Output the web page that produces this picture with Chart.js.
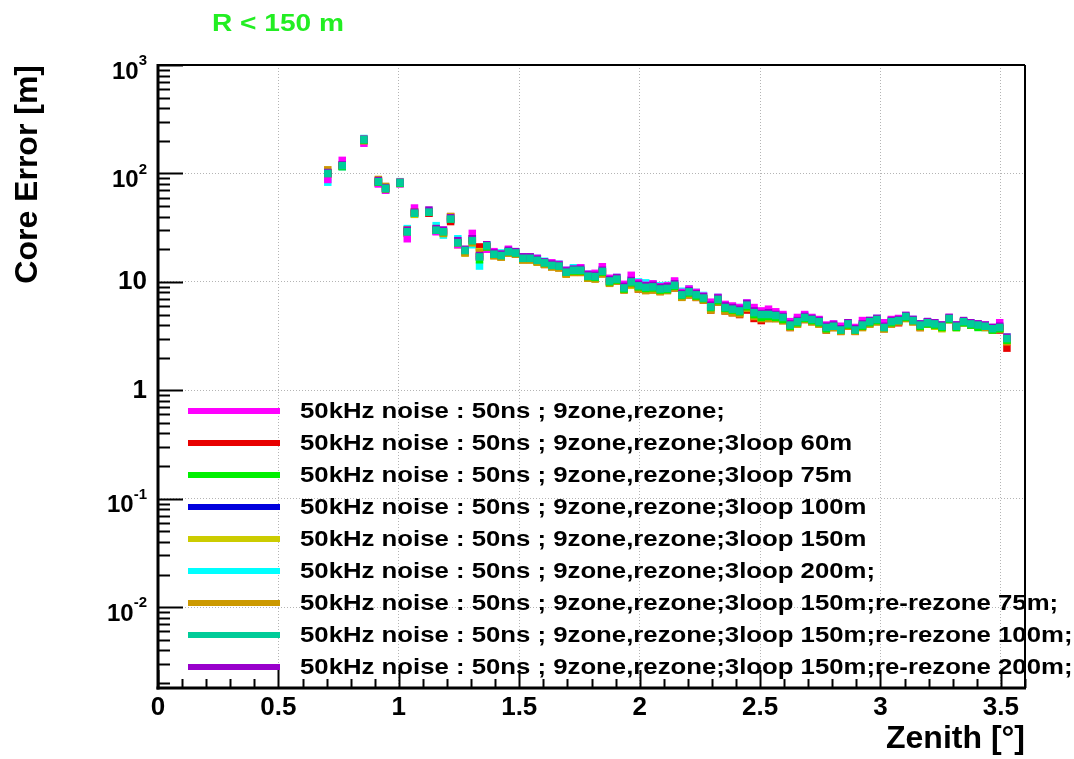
<!DOCTYPE html>
<html>
<head>
<meta charset="utf-8">
<script src="https://cdn.jsdelivr.net/npm/chart.js@4.4.0/dist/chart.umd.min.js"></script>
<style>
body { margin: 0; background: #ffffff; }
#wrap { width: 1074px; height: 759px; }
</style>
</head>
<body>
<div id="wrap"><canvas id="coreChart" width="1074" height="759"></canvas></div>
<script>
// bin centres, degrees (first row has gaps, then every bin from 1.125 on)
const zenith = [
    0.705, 0.765, 0.855, 0.915, 0.945, 1.005, 1.035, 1.065,
    1.125, 1.155, 1.185, 1.215, 1.245, 1.275, 1.305, 1.335, 1.365, 1.395,
    1.425, 1.455, 1.485, 1.515, 1.545, 1.575, 1.605, 1.635, 1.665, 1.695,
    1.725, 1.755, 1.785, 1.815, 1.845, 1.875, 1.905, 1.935, 1.965, 1.995,
    2.025, 2.055, 2.085, 2.115, 2.145, 2.175, 2.205, 2.235, 2.265, 2.295,
    2.325, 2.355, 2.385, 2.415, 2.445, 2.475, 2.505, 2.535, 2.565, 2.595,
    2.625, 2.655, 2.685, 2.715, 2.745, 2.775, 2.805, 2.835, 2.865, 2.895,
    2.925, 2.955, 2.985, 3.015, 3.045, 3.075, 3.105, 3.135, 3.165, 3.195,
    3.225, 3.255, 3.285, 3.315, 3.345, 3.375, 3.405, 3.435, 3.465, 3.495,
    3.525
];

const errMagenta = [
    88, 132, 190, 80, 70, 80, 25, 48,
    44, 29, 30, 40, 22, 19, 28, 17, 20, 19,
    18, 20, 18, 17, 17, 16.5, 15, 15, 14.5, 12.8,
    13, 13.5, 11.8, 12, 13.8, 10.8, 11, 9.5, 11.5, 9.8,
    9.3, 9.6, 9, 9.2, 10.2, 8, 8.6, 8, 7.4, 6.5,
    7.2, 6.2, 6, 5.8, 6.4, 5.8, 5.4, 5.6, 5.3, 5,
    4.3, 4.7, 5, 4.7, 4.5, 4, 4.1, 3.9, 4.2, 3.8,
    4.4, 4.4, 4.6, 4.2, 4.5, 4.6, 4.9, 4.5, 3.9, 4.3,
    4.2, 4, 4.7, 4, 4.3, 4.1, 4.1, 4, 3.8, 4.2,
    3.0
];
const errRed = [
    98, 120, 200, 82, 72, 82, 28, 44,
    43, 30, 29, 36, 23, 19, 25, 21, 21, 17.5,
    17, 18.5, 18, 16, 16, 15.5, 14.5, 13.8, 13.5, 12,
    12.5, 12.3, 10.8, 10.8, 12, 9.8, 10.2, 8.5, 9.5, 8.6,
    8.4, 8.5, 8.2, 8.4, 8.8, 7.3, 7.6, 7.2, 6.8, 5.5,
    6.5, 5.4, 5.2, 5, 5.5, 4.6, 4.4, 4.6, 4.6, 4.4,
    3.8, 4.1, 4.5, 4.3, 4.1, 3.6, 3.8, 3.5, 3.9, 3.5,
    3.9, 4.1, 4.3, 3.7, 4.1, 4.2, 4.7, 4.3, 3.8, 4.1,
    4, 3.8, 4.5, 3.9, 4.2, 4.1, 4, 3.9, 3.7, 3.6,
    2.45
];
const errGreen = [
    100, 116, 203, 83, 72, 81, 29, 43,
    44, 30, 29, 38, 23, 19.5, 24, 16, 21, 18,
    17.5, 19, 18.5, 16.5, 16.5, 15.8, 15, 14.2, 14, 12.3,
    12.6, 12.6, 11.2, 11, 12.3, 10, 10.4, 8.6, 9.8, 9,
    8.7, 8.8, 8.4, 8.5, 9.1, 7.5, 7.9, 7.4, 7, 5.8,
    6.7, 5.7, 5.5, 5.3, 5.9, 5, 4.7, 4.8, 4.7, 4.5,
    3.9, 4.2, 4.6, 4.4, 4.2, 3.7, 3.9, 3.6, 4, 3.6,
    3.9, 4.2, 4.4, 3.8, 4.2, 4.4, 4.7, 4.4, 3.9, 4.1,
    4, 3.8, 4.5, 3.8, 4.2, 4, 3.8, 3.9, 3.6, 3.7,
    2.9
];
const errBlue = [
    100, 118, 205, 84, 73, 82, 29, 42.5,
    43.5, 29.5, 28.5, 37.5, 23, 19.3, 24, 17, 21.3, 18,
    17.3, 18.8, 18.3, 16.3, 16.3, 15.6, 14.9, 14.1, 13.9, 12.2,
    12.7, 12.7, 11.2, 11.1, 12.4, 10.1, 10.5, 8.7, 9.9, 9.1,
    8.8, 8.9, 8.5, 8.6, 9.2, 7.5, 8, 7.5, 7, 5.85,
    6.85, 5.75, 5.55, 5.35, 6.05, 5.15, 4.95, 4.95, 4.85, 4.65,
    3.95, 4.25, 4.65, 4.45, 4.25, 3.75, 3.85, 3.6, 4.05, 3.6,
    3.95, 4.25, 4.45, 3.8, 4.25, 4.35, 4.75, 4.35, 3.95, 4.15,
    4.05, 3.85, 4.55, 3.85, 4.25, 4.05, 3.95, 3.85, 3.65, 3.75,
    2.95
];
const errOlive = [
    102, 117, 206, 86, 75, 83, 30, 42,
    44, 30, 28, 40, 22, 18.5, 23, 19, 20.5, 17.5,
    17, 18.5, 18, 16, 16, 15.2, 14.5, 13.8, 13.5, 11.8,
    12.3, 12.3, 10.8, 10.8, 12, 9.9, 10.3, 8.6, 9.3, 8.8,
    8.5, 8.6, 8.2, 8.4, 9, 7.3, 7.7, 7.3, 6.9, 5.6,
    6.6, 5.5, 5.3, 5.1, 5.8, 4.9, 4.6, 4.7, 4.6, 4.4,
    3.9, 4.1, 4.6, 4.3, 4.1, 3.7, 3.8, 3.5, 3.9, 3.6,
    3.8, 4.1, 4.3, 3.7, 4.1, 4.3, 4.6, 4.3, 3.8, 4.1,
    3.9, 3.7, 4.5, 3.8, 4.2, 4, 3.9, 3.8, 3.6, 3.7,
    2.9
];
const errCyan = [
    83, 115, 210, 82, 70, 84, 31, 42,
    45, 33, 27, 37, 25, 19, 22, 14, 22, 18.5,
    18.5, 19.5, 19, 17, 17, 16.5, 15.5, 14.8, 14.6, 12.8,
    13.5, 13.5, 11.8, 11.8, 13, 10.6, 11, 9.3, 10.5, 10,
    9.8, 9.6, 9.2, 9.3, 10, 8.2, 8.6, 8, 7.5, 6.3,
    7.2, 6.1, 5.9, 5.8, 6.4, 5.5, 5.3, 5.3, 5.1, 4.8,
    4.2, 4.5, 4.9, 4.6, 4.4, 3.9, 4.1, 3.8, 4.2, 3.7,
    4.1, 4.4, 4.6, 3.9, 4.4, 4.5, 4.8, 4.5, 4.1, 4.3,
    4.2, 4.0, 4.6, 4.0, 4.3, 4.2, 4.0, 3.8, 3.6, 3.8,
    3.1
];
const errGold = [
    108, 116, 200, 88, 76, 82, 30, 44,
    44, 31, 28, 40, 23, 18.5, 23, 18.5, 21, 17.5,
    17, 18.5, 18, 16, 16, 15.2, 14.5, 13.8, 13.5, 11.8,
    12.2, 12.2, 10.8, 10.6, 11.8, 9.7, 10.2, 8.4, 9.5, 8.6,
    8.3, 8.4, 8.1, 8.3, 8.8, 7.2, 7.6, 7.2, 6.8, 5.5,
    6.5, 5.4, 5.2, 5.1, 5.7, 4.8, 4.6, 4.6, 4.6, 4.4,
    3.8, 4.1, 4.5, 4.3, 4.1, 3.6, 3.8, 3.5, 3.9, 3.5,
    3.8, 4.1, 4.3, 3.7, 4.1, 4.3, 4.6, 4.3, 3.8, 4.1,
    4, 3.8, 4.5, 3.8, 4.3, 4.0, 3.9, 3.8, 3.6, 3.7,
    2.8
];
const errTeal = [
    100, 118, 205, 84, 73, 82, 29, 43,
    44, 30, 29, 38, 23, 19.5, 24, 17, 21.5, 18,
    17.5, 19, 18.5, 16.5, 16.5, 15.8, 15, 14.2, 14, 12.3,
    12.8, 12.8, 11.3, 11.2, 12.5, 10.2, 10.6, 8.8, 10, 9.2,
    8.9, 9, 8.6, 8.7, 9.3, 7.6, 8.1, 7.6, 7.1, 5.9,
    6.9, 5.8, 5.6, 5.4, 6.1, 5.2, 5.0, 5.0, 4.9, 4.7,
    4.0, 4.3, 4.7, 4.5, 4.3, 3.8, 3.9, 3.6, 4.1, 3.6,
    4.0, 4.3, 4.5, 3.8, 4.3, 4.4, 4.8, 4.4, 4.0, 4.2,
    4.1, 3.9, 4.6, 3.9, 4.3, 4.1, 4.0, 3.9, 3.7, 3.8,
    3.0
];
const errPurple = [
    102, 120, 207, 86, 74, 83, 30, 44,
    46, 31, 30, 39, 24, 20, 25, 17.5, 22, 18.5,
    18, 19.5, 19, 17, 17, 16.2, 15.3, 14.6, 14.3, 12.6,
    13.1, 13.1, 11.6, 11.5, 12.8, 10.5, 10.9, 9.1, 10.3, 9.5,
    9.2, 9.3, 8.9, 9, 9.6, 7.8, 8.3, 7.8, 7.3, 6.1,
    7.1, 6, 5.8, 5.6, 6.3, 5.4, 5.1, 5.2, 5, 4.8,
    4.1, 4.4, 4.8, 4.6, 4.4, 3.9, 4, 3.7, 4.2, 3.7,
    4.1, 4.4, 4.6, 3.9, 4.4, 4.5, 4.9, 4.5, 4.1, 4.3,
    4.2, 4, 4.7, 4, 4.4, 4.2, 4.1, 4, 3.8, 3.9,
    3.1
];

const seriesLabels = [
    "50kHz noise : 50ns ; 9zone,rezone;",
    "50kHz noise : 50ns ; 9zone,rezone;3loop 60m",
    "50kHz noise : 50ns ; 9zone,rezone;3loop 75m",
    "50kHz noise : 50ns ; 9zone,rezone;3loop 100m",
    "50kHz noise : 50ns ; 9zone,rezone;3loop 150m",
    "50kHz noise : 50ns ; 9zone,rezone;3loop 200m;",
    "50kHz noise : 50ns ; 9zone,rezone;3loop 150m;re-rezone 75m;",
    "50kHz noise : 50ns ; 9zone,rezone;3loop 150m;re-rezone 100m;",
    "50kHz noise : 50ns ; 9zone,rezone;3loop 150m;re-rezone 200m;"
];
const seriesValues = [errMagenta, errRed, errGreen, errBlue, errOlive, errCyan, errGold, errTeal, errPurple];
const seriesColors = ['#ff00ff', '#e80000', '#00f000', '#0000dd', '#cccc00', '#00ffff', '#cc9900', '#00cc99', '#9900cc'];
// which one ends up on top (lower = drawn later)
const seriesOrder = [4, 6, 2, 8, 5, 7, 3, 0, 1];

const xTicks = [0, 0.5, 1, 1.5, 2, 2.5, 3, 3.5];
const yTicks = [0.01, 0.1, 1, 10, 100, 1000];
const yTickLabels = [['10', '-2'], ['10', '-1'], ['1', ''], ['10', ''], ['10', '2'], ['10', '3']];

const FONT = '"Liberation Sans", Arial, sans-serif';
const TEXT_STRETCH = 1.17; // legend / title text is wide in the original

function drawLine(ctx, x1, y1, x2, y2) {
    ctx.beginPath();
    ctx.moveTo(x1, y1);
    ctx.lineTo(x2, y2);
    ctx.stroke();
}

function wideText(ctx, txt, x, y) {
    ctx.save();
    ctx.translate(x, y);
    ctx.scale(TEXT_STRETCH, 1);
    ctx.fillText(txt, 0, 0);
    ctx.restore();
}

// ROOT-like frame, inward ticks, y labels with exponents, legend and title
const rootLook = {
    id: 'rootLook',
    afterDraw(chart) {
        const ctx = chart.ctx;
        const a = chart.chartArea;
        const xs = chart.scales.x;
        const ys = chart.scales.y;
        ctx.save();
        ctx.strokeStyle = '#000';

        // y ticks (log), major at decades
        ctx.lineWidth = 2;
        for (let e = -3; e <= 3; e++) {
            for (let d = 1; d <= 9; d++) {
                const v = d * Math.pow(10, e);
                if (v < ys.min || v > ys.max) continue;
                const py = Math.round(ys.getPixelForValue(v)) + 0.5;
                drawLine(ctx, a.left, py, a.left + (d === 1 ? 25 : 12), py);
            }
        }
        // x ticks, major every 0.5, minor every 0.1
        for (let i = 0; i <= 36; i++) {
            const px = Math.round(xs.getPixelForValue(i / 10)) + 0.5;
            drawLine(ctx, px, a.bottom, px, a.bottom - (i % 5 === 0 ? 18 : 9));
        }

        // frame
        ctx.lineWidth = 2;
        drawLine(ctx, a.left, a.top, a.right, a.top);
        drawLine(ctx, a.right, a.top, a.right, a.bottom);
        ctx.lineWidth = 3;
        drawLine(ctx, a.left, a.top - 1, a.left, a.bottom + 1.5);
        drawLine(ctx, a.left - 1.5, a.bottom, a.right + 1, a.bottom);

        // y labels: plain ones big, 10^n ones with raised exponent
        ctx.fillStyle = '#000';
        ctx.textBaseline = 'middle';
        ctx.textAlign = 'right';
        yTicks.forEach((v, i) => {
            const py = ys.getPixelForValue(v);
            const base = yTickLabels[i][0];
            const sup = yTickLabels[i][1];
            const right = a.left - 11;
            if (sup) {
                ctx.font = 'bold 15px ' + FONT;
                const supW = ctx.measureText(sup).width;
                ctx.fillText(sup, right, py - 4);
                ctx.font = 'bold 24px ' + FONT;
                ctx.fillText(base, right - supW, py + 7);
            } else {
                ctx.font = 'bold 26px ' + FONT;
                ctx.fillText(base, right, py);
            }
        });

        // legend
        ctx.textAlign = 'left';
        ctx.font = 'bold 22px ' + FONT;
        seriesLabels.forEach((lab, i) => {
            const ly = 411 + 32 * i;
            ctx.strokeStyle = seriesColors[i];
            ctx.lineWidth = 6;
            drawLine(ctx, 188, ly, 280, ly);
            ctx.fillStyle = '#000';
            wideText(ctx, lab, 300, ly + 1);
        });

        // title
        ctx.fillStyle = '#22ee22';
        ctx.font = 'bold 24px ' + FONT;
        wideText(ctx, 'R < 150 m', 212, 24);
        ctx.restore();
    }
};

const datasets = seriesValues.map((vals, i) => ({
    label: seriesLabels[i],
    data: zenith.map((z, j) => ({ x: z, y: vals[j] })),
    backgroundColor: seriesColors[i],
    borderColor: seriesColors[i],
    pointStyle: 'rect',
    pointRadius: 5.3,
    pointBorderWidth: 0,
    showLine: false,
    order: seriesOrder[i]
}));

new Chart(document.getElementById('coreChart'), {
    type: 'scatter',
    data: { datasets: datasets },
    options: {
        responsive: false,
        animation: false,
        devicePixelRatio: 1,
        events: [],
        layout: { padding: { left: 0, top: 65, right: 49, bottom: 0 } },
        plugins: {
            legend: { display: false },
            tooltip: { enabled: false },
            title: { display: false }
        },
        scales: {
            x: {
                type: 'linear',
                min: 0,
                max: 3.6,
                afterFit: (s) => { s.height = 71; },
                afterBuildTicks: (s) => { s.ticks = xTicks.map(v => ({ value: v })); },
                grid: { color: '#b4b4b4', lineWidth: 1, drawTicks: false },
                border: { display: false, dash: [1, 2] },
                ticks: {
                    color: '#000',
                    padding: 4,
                    maxRotation: 0,
                    font: { family: FONT, size: 26, weight: 'bold' },
                    callback: (v) => String(v)
                },
                title: {
                    display: true,
                    text: 'Zenith [°]',
                    align: 'end',
                    color: '#000',
                    padding: { top: 0, bottom: 1 },
                    font: { family: FONT, size: 32, weight: 'bold' }
                }
            },
            y: {
                type: 'logarithmic',
                min: 0.0018,
                max: 1000,
                afterFit: (s) => { s.width = 158; },
                afterBuildTicks: (s) => { s.ticks = yTicks.map(v => ({ value: v })); },
                grid: { color: '#b4b4b4', lineWidth: 1, drawTicks: false },
                border: { display: false, dash: [1, 2] },
                ticks: { display: false },
                title: {
                    display: true,
                    text: 'Core Error [m]',
                    align: 'end',
                    color: '#000',
                    padding: { top: 9, bottom: 0 },
                    font: { family: FONT, size: 32, weight: 'bold' }
                }
            }
        }
    },
    plugins: [rootLook]
});
</script>
</body>
</html>
